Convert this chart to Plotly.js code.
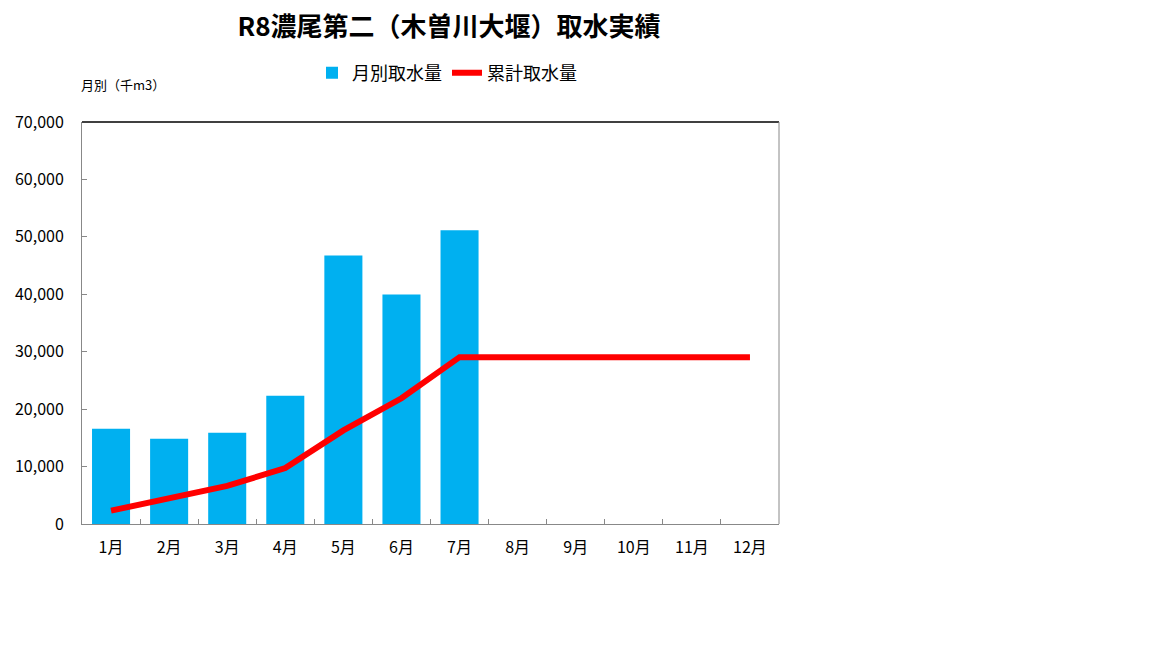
<!DOCTYPE html>
<html>
<head>
<meta charset="utf-8">
<script src="https://cdn.plot.ly/plotly-3.0.1.min.js"></script>
<style>
  body { margin: 0; background: #ffffff; }
</style>
</head>
<body>
<div id="myDiv" style="width:1152px;height:648px;"></div>
<script>
// Months and values (千m3)
var months = ['1月', '2月', '3月', '4月', '5月', '6月', '7月', '8月', '9月', '10月', '11月', '12月']
var monthly = [16600, 14830, 15880, 22340, 46770, 39970, 51130, null, null, null, null, null]
// cumulative series sits on a hidden second axis (0 - 500,000)
var cumulative = [16600, 31430, 47310, 69650, 116420, 156390, 207520, 207520, 207520, 207520, 207520, 207520]
var yTicks = [0, 10000, 20000, 30000, 40000, 50000, 60000, 70000]

var font = 'Noto Sans CJK JP, sans-serif'

var data = [
  {x: months, y: monthly, type: 'bar', name: '月別取水量',
    marker: {color: '#00b0f0'}, hoverinfo: 'x+y'},
  {x: months, y: cumulative, type: 'scatter', mode: 'lines', name: '累計取水量', yaxis: 'y2',
    line: {color: '#ff0000', width: 6}, hoverinfo: 'x+y'}
]

var layout = {
  width: 1152,
  height: 648,
  margin: {l: 82, r: 373, t: 122, b: 124},
  paper_bgcolor: '#ffffff',
  plot_bgcolor: '#ffffff',
  font: {family: font, color: '#000000', size: 16},
  title: {
    text: '<b>R8濃尾第二（木曽川大堰）取水実績</b>',
    font: {family: font, size: 26, color: '#000000'},
    x: 449 / 1152, xanchor: 'center', y: 1 - 27 / 648, yanchor: 'middle'
  },
  bargap: 0.345,
  showlegend: true,
  legend: {
    orientation: 'h', x: 447 / 1152, xanchor: 'center', y: 1 - 73 / 648, yanchor: 'middle',
    xref: 'container', yref: 'container',
    font: {family: font, size: 18}, itemwidth: 30, tracegroupgap: 0
  },
  xaxis: {
    type: 'category',
    showline: true, linecolor: '#888888', linewidth: 1,
    ticks: 'inside', tickson: 'boundaries', ticklen: 5, tickcolor: '#888888',
    showgrid: false, zeroline: false,
    tickfont: {family: font, size: 16}, ticklabelstandoff: 9
  },
  yaxis: {
    range: [0, 70000], tickvals: yTicks, tickformat: ',',
    showline: true, linecolor: '#888888', linewidth: 1,
    ticks: 'inside', ticklen: 5, tickcolor: '#888888',
    showgrid: false, zeroline: false,
    tickfont: {family: font, size: 16}, ticklabelstandoff: 14
  },
  yaxis2: {
    range: [0, 500000], overlaying: 'y', side: 'right', visible: false
  },
  shapes: [
    {type: 'line', xref: 'paper', yref: 'paper', x0: 0, x1: 1, y0: 1, y1: 1,
      line: {color: '#000000', width: 1.5}},
    {type: 'line', xref: 'paper', yref: 'paper', x0: 1, x1: 1, y0: 0, y1: 1,
      line: {color: '#888888', width: 1}}
  ],
  annotations: [
    {text: '月別（千m3）', xref: 'paper', yref: 'paper', x: -0.004, xanchor: 'left',
      y: 1 + (122 - 84) / 402, yanchor: 'middle', showarrow: false,
      font: {family: font, size: 13, color: '#000000'}}
  ]
}

Plotly.newPlot('myDiv', data, layout, {displayModeBar: false})
</script>
</body>
</html>
